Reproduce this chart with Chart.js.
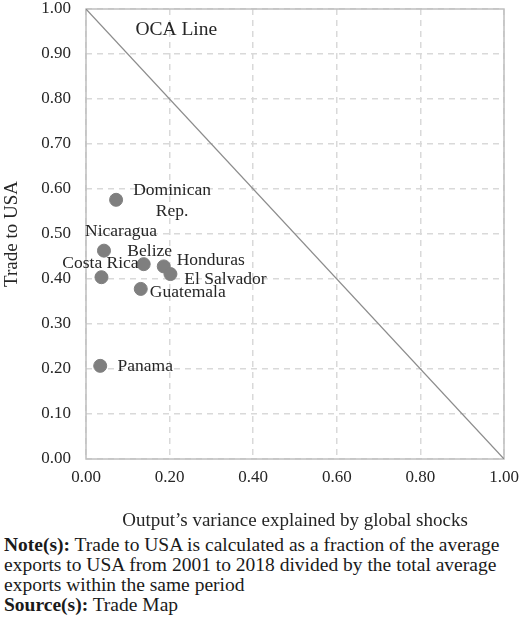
<!DOCTYPE html>
<html lang="en">
<head>
    <meta charset="UTF-8">
    <title>Trade to USA vs global shocks</title>
    <style>
        body {
            margin: 0;
            background: #ffffff;
            font-family: "Liberation Serif", serif;
        }
        .chart-container {
            position: relative;
            width: 520px;
            height: 532px;
        }
        .notes {
            font-size: 19.5px;
            line-height: 20px;
            color: #1a1a1a;
            padding-left: 4px;
            margin-top: 3px;
        }
    </style>
</head>
<body>
    <div class="chart-container">
        <canvas id="ocaChart"></canvas>
    </div>
    <div class="notes">
        <b>Note(s):</b> Trade to USA is calculated as a fraction of the average<br>
        exports to USA from 2001 to 2018 divided by the total average<br>
        exports within the same period<br>
        <b>Source(s):</b> Trade Map
    </div>
    <script src="https://cdn.jsdelivr.net/npm/chart.js"></script>
    <script>
        const countries = ['Dominican\nRep.', 'Nicaragua', 'Costa Rica', 'Belize', 'Honduras', 'El Salvador', 'Guatemala', 'Panama'];
        const globalShare = [0.072, 0.043, 0.037, 0.138, 0.186, 0.202, 0.131, 0.034];
        const tradeToUSA = [0.576, 0.463, 0.404, 0.433, 0.428, 0.411, 0.378, 0.207];
        const ocaX = [0, 1];
        const ocaY = [1, 0];

        // label offsets in pixels from each point (centre of text)
        const labelDx = [56, 17, -1, 6, 47, 55, 47, 45];
        const labelDy = [-9, -19, -14, -13, -6, 5, 4, 1];

        const serif = '"Liberation Serif", "Times New Roman", serif';
        const textColor = '#262626';

        const labelPlugin = {
            id: 'countryLabels',
            beforeDatasetsDraw(chart) {
                const { ctx, chartArea } = chart;
                ctx.save();
                ctx.strokeStyle = '#bfbfbf';
                ctx.lineWidth = 1.5;
                ctx.strokeRect(chartArea.left, chartArea.top, chartArea.right - chartArea.left, chartArea.bottom - chartArea.top);
                ctx.restore();
            },
            afterDatasetsDraw(chart) {
                const { ctx, scales } = chart;
                const meta = chart.getDatasetMeta(1);
                ctx.save();
                ctx.fillStyle = textColor;
                ctx.font = '17.5px ' + serif;
                ctx.textAlign = 'center';
                ctx.textBaseline = 'middle';
                meta.data.forEach((pt, i) => {
                    const lines = countries[i].split('\n');
                    lines.forEach((line, j) => {
                        ctx.fillText(line, pt.x + labelDx[i], pt.y + labelDy[i] + j * 21);
                    });
                });
                ctx.font = '19.5px ' + serif;
                ctx.fillText('OCA Line', scales.x.getPixelForValue(0.216), scales.y.getPixelForValue(0.953));
                ctx.restore();
            }
        };

        const ctx = document.getElementById('ocaChart').getContext('2d');
        new Chart(ctx, {
            type: 'scatter',
            data: {
                datasets: [
                    {
                        type: 'line',
                        label: 'OCA Line',
                        data: ocaX.map((x, i) => ({ x: x, y: ocaY[i] })),
                        borderColor: '#8c8c8c',
                        borderWidth: 1.2,
                        pointRadius: 0,
                        fill: false
                    },
                    {
                        label: 'Countries',
                        data: globalShare.map((x, i) => ({ x: x, y: tradeToUSA[i] })),
                        backgroundColor: '#7f7f7f',
                        borderColor: '#7f7f7f',
                        pointRadius: 6.5,
                        pointHoverRadius: 6.5
                    }
                ]
            },
            options: {
                responsive: true,
                maintainAspectRatio: false,
                animation: false,
                layout: { padding: { top: 9, right: 16, left: 0, bottom: 0 } },
                plugins: {
                    legend: { display: false },
                    tooltip: { enabled: false }
                },
                scales: {
                    x: {
                        type: 'linear',
                        min: 0,
                        max: 1,
                        afterFit: (scale) => {
                            scale.height = 73;
                            scale.paddingLeft = 0;
                            scale.paddingRight = 0;
                        },
                        ticks: {
                            stepSize: 0.2,
                            padding: 8,
                            color: textColor,
                            font: { family: serif, size: 17 },
                            callback: (v) => v.toFixed(2)
                        },
                        grid: {
                            color: '#d9d9d9',
                            lineWidth: 1.5,
                            drawTicks: false
                        },
                        border: { display: false, dash: [6, 5] },
                        title: {
                            display: true,
                            text: 'Output\u2019s variance explained by global shocks',
                            color: textColor,
                            font: { family: serif, size: 19 },
                            padding: { top: 0, bottom: 0 }
                        }
                    },
                    y: {
                        type: 'linear',
                        min: 0,
                        max: 1,
                        afterFit: (scale) => {
                            scale.width = 86;
                            scale.paddingTop = 0;
                            scale.paddingBottom = 0;
                        },
                        ticks: {
                            stepSize: 0.1,
                            padding: 15,
                            color: textColor,
                            font: { family: serif, size: 17 },
                            callback: (v) => v.toFixed(2)
                        },
                        grid: {
                            color: '#d9d9d9',
                            lineWidth: 1.5,
                            drawTicks: false
                        },
                        border: { display: false, dash: [6, 5] },
                        title: {
                            display: true,
                            text: 'Trade to USA',
                            color: textColor,
                            font: { family: serif, size: 19 },
                            padding: { top: 1, bottom: 0 }
                        }
                    }
                }
            },
            plugins: [labelPlugin]
        });
    </script>
</body>
</html>
